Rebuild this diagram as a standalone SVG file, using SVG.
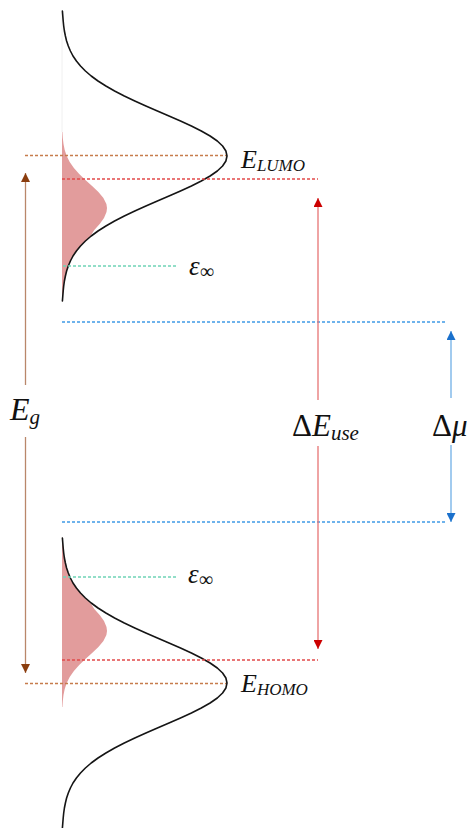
<svg xmlns="http://www.w3.org/2000/svg" xmlns:xlink="http://www.w3.org/1999/xlink" width="467" height="828" viewBox="0 0 467 828">
<style>
.curve{fill:none;stroke:#151515;stroke-width:1.6;stroke-linejoin:round;stroke-linecap:round}
.pink{fill:#e29c9c;stroke:none}
.dash{fill:none;stroke-width:1.3;stroke-dasharray:3 2}
.brownD{stroke:#c67c4c}
.redD{stroke:#e24a4a}
.tealD{stroke:#6fd4b6}
.blueD{stroke:#3f9be6}
.arr{fill:none;stroke-width:1.3}
.m{font-family:"Liberation Serif","DejaVu Serif",serif;font-style:italic;fill:#111}
.up{font-style:normal}
</style>
<defs>
<marker id="hb" viewBox="0 0 10 10" refX="10" refY="5" markerWidth="10" markerHeight="9" markerUnits="userSpaceOnUse" orient="auto-start-reverse"><path d="M0,0 L10,5 L0,10 Z" fill="#8a3d0e"/></marker>
<marker id="hr" viewBox="0 0 10 10" refX="10" refY="5" markerWidth="10" markerHeight="9" markerUnits="userSpaceOnUse" orient="auto-start-reverse"><path d="M0,0 L10,5 L0,10 Z" fill="#cc0000"/></marker>
<marker id="hu" viewBox="0 0 10 10" refX="10" refY="5" markerWidth="10" markerHeight="9" markerUnits="userSpaceOnUse" orient="auto-start-reverse"><path d="M0,0 L10,5 L0,10 Z" fill="#1a70cc"/></marker>
<g id="band">
<path class="pink" d="M62,132 L62.4,132 62.8,138 63.5,144 64.7,150 66.7,156 69.7,162 73.9,168 79.2,174 85.4,180 92.1,186 98.4,192 103.4,198 106.4,204 107,208 106.5,212 104,218 99.7,224 94.3,230 90.5,236 85.4,241 80.5,246 76.4,251 73,256 70.4,261 68.3,266 66.6,271 65.4,276 64.4,281 63.7,286 63.2,291 62.8,296 62.6,301 62,302 Z"/>
<path class="curve" d="M62.4,11 L62.8,16 63.2,21 63.7,26 64.4,31 65.4,36 66.6,41 68.3,46 70.4,51 73,56 76.4,61 80.5,66 85.4,71 91.2,76 98,81 105.9,86 114.6,91 124.3,96 134.8,101 145.9,106 157.4,111 169,116 180.5,121 191.4,126 201.3,131 210.1,136 217.3,141 222.6,146 225.9,151 227,156 225.9,161 222.6,166 217.3,171 210.1,176 201.3,181 191.4,186 180.5,191 169,196 157.4,201 145.9,206 134.8,211 124.3,216 114.6,221 105.9,226 98,231 91.2,236 85.4,241 80.5,246 76.4,251 73,256 70.4,261 68.3,266 66.6,271 65.4,276 64.4,281 63.7,286 63.2,291 62.8,296 62.4,301"/>
</g>
</defs>

<g id="lumo-band">
<line x1="62" y1="12" x2="62" y2="132" stroke="#f0f0f0" stroke-width="1"/>
<use xlink:href="#band" href="#band"/>
</g>
<g id="homo-band"><use xlink:href="#band" href="#band" transform="matrix(1 0 0 -1 0 839)"/></g>

<g id="levels">
<line class="dash brownD" x1="25" y1="155.5" x2="226" y2="155.5"/>
<line class="dash redD" x1="62" y1="179" x2="318" y2="179"/>
<line class="dash tealD" x1="63" y1="266" x2="177" y2="266"/>
<line class="dash blueD" x1="62" y1="322" x2="446" y2="322"/>
<line class="dash blueD" x1="62" y1="522" x2="446" y2="522"/>
<line class="dash tealD" x1="63" y1="577" x2="178" y2="577"/>
<line class="dash redD" x1="62" y1="660" x2="318" y2="660"/>
<line class="dash brownD" x1="25" y1="683.5" x2="226" y2="683.5"/>
</g>

<g id="connectors">
<line class="arr" stroke="#b9876a" x1="25.5" y1="173" x2="25.5" y2="385" marker-start="url(#hb)"/>
<line class="arr" stroke="#b9876a" x1="25.5" y1="437" x2="25.5" y2="673" marker-end="url(#hb)"/>
<line class="arr" stroke="#e77373" x1="318" y1="198" x2="318" y2="400" marker-start="url(#hr)"/>
<line class="arr" stroke="#e77373" x1="318" y1="446" x2="318" y2="649" marker-end="url(#hr)"/>
<line class="arr" stroke="#70afe6" x1="451" y1="331" x2="451" y2="398" marker-start="url(#hu)"/>
<line class="arr" stroke="#70afe6" x1="451" y1="445" x2="451" y2="522" marker-end="url(#hu)"/>
</g>

<g id="labels">
<text class="m" x="241" y="168" font-size="26">E<tspan font-size="17" dy="3">LUMO</tspan></text>
<text class="m" x="189" y="275" font-size="27">ε<tspan class="up" font-size="20" dy="3">∞</tspan></text>
<text class="m" x="188" y="583" font-size="27">ε<tspan class="up" font-size="20" dy="3">∞</tspan></text>
<text class="m" x="241" y="692" font-size="26">E<tspan font-size="17" dy="3">HOMO</tspan></text>
<text class="m" x="10" y="420" font-size="32">E<tspan font-size="21" dy="4">g</tspan></text>
<text class="m" x="292" y="436" font-size="31"><tspan class="up">Δ</tspan>E<tspan font-size="21" dy="4">use</tspan></text>
<text class="m" x="432" y="436" font-size="31"><tspan class="up">Δ</tspan>μ</text>
</g>
</svg>
